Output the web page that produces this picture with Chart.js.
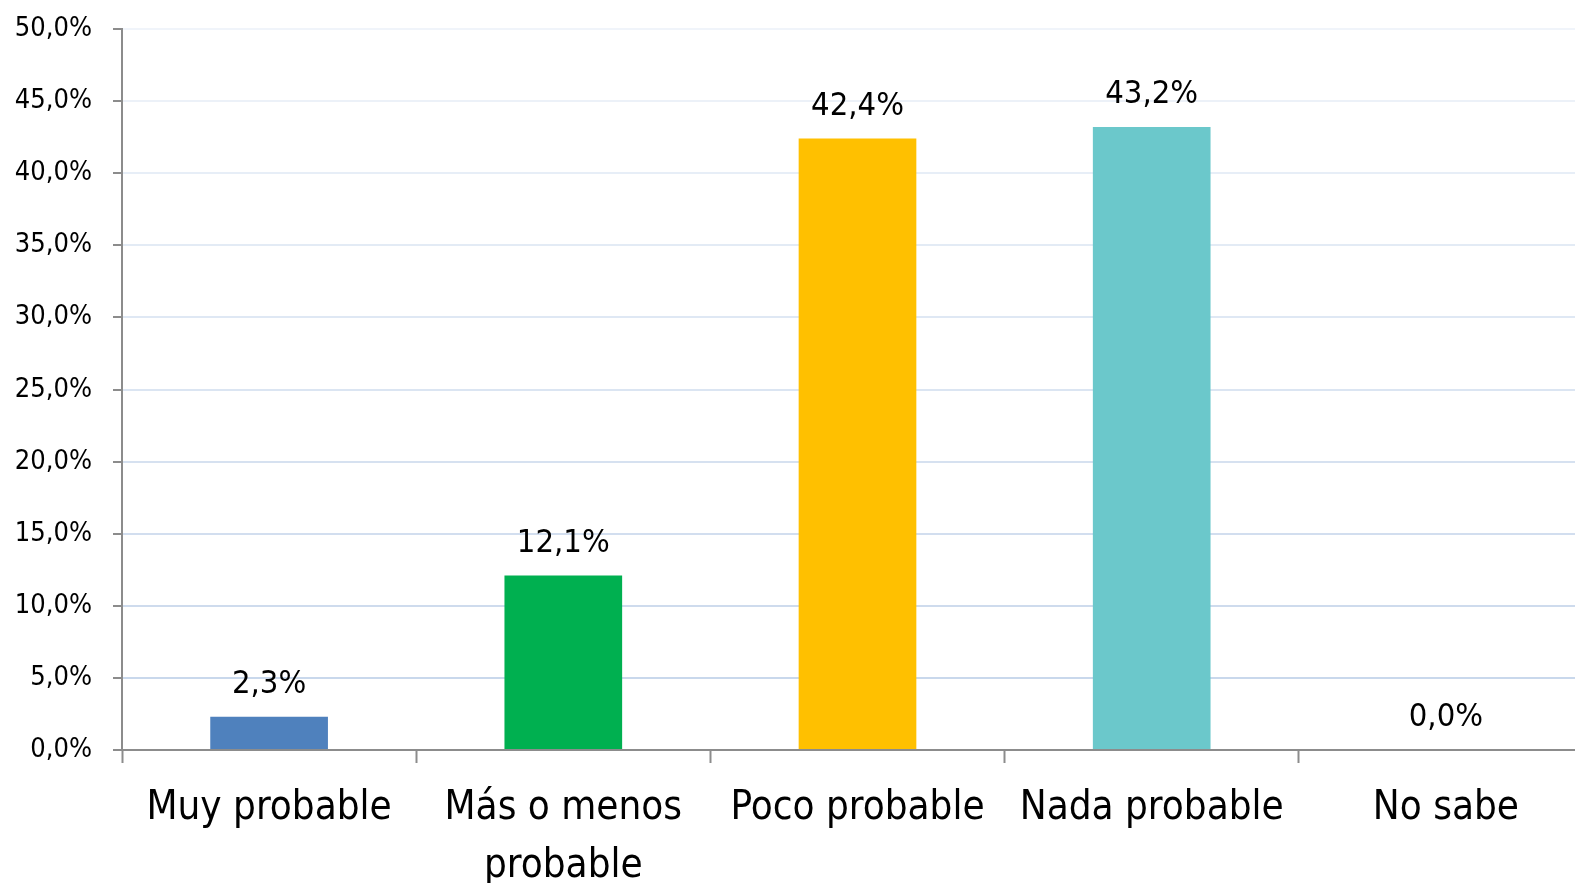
<!DOCTYPE html>
<html>
<head>
<meta charset="utf-8">
<script src="https://cdn.jsdelivr.net/npm/chart.js@4"></script>
<style>
  html, body { margin: 0; padding: 0; background: #fff; overflow: hidden; }
  #wrap { width: 1600px; height: 883px; position: relative; }
</style>
</head>
<body>
<div id="wrap"><canvas id="myChart"></canvas></div>
<script>
// données
const categories = ['Muy probable', ['Más o menos', 'probable'], 'Poco probable', 'Nada probable', 'No sabe'];
const valores = [2.3, 12.1, 42.4, 43.2, 0.0];
const colores = ['#4F81BD', '#00B050', '#FFC000', '#6BC8CB', '#A5A5A5'];
const yMin = 0, yMax = 50, yStep = 5;

const FONT = "'DejaVu Sans Condensed', 'DejaVu Sans', sans-serif";
const fmt = v => v.toFixed(1).replace('.', ',') + '%';

// couleur des lignes de grille : plus claire vers le haut
function gridColor(v) {
    const t = (v - yMin) / (yMax - yMin);
    const a = [197, 213, 234], b = [240, 244, 250];
    const c = a.map((x, i) => Math.round(x + (b[i] - x) * t));
    return `rgb(${c[0]},${c[1]},${c[2]})`;
}

const labelPlugin = {
    id: 'valueLabels',
    afterDatasetsDraw(chart) {
        const ctx = chart.ctx;
        const meta = chart.getDatasetMeta(0);
        ctx.save();
        ctx.font = `32.5px ${FONT}`;
        ctx.fillStyle = '#000';
        ctx.textAlign = 'center';
        ctx.textBaseline = 'alphabetic';
        meta.data.forEach((bar, i) => {
            ctx.fillText(fmt(valores[i]), bar.x, bar.y - 24);
        });
        ctx.restore();
    }
};

const ctx = document.getElementById('myChart').getContext('2d');
new Chart(ctx, {
    type: 'bar',
    data: {
        labels: categories,
        datasets: [{
            data: valores,
            backgroundColor: colores,
            borderWidth: 0,
            categoryPercentage: 1,
            barPercentage: 0.4
        }]
    },
    options: {
        responsive: true,
        maintainAspectRatio: false,
        animation: false,
        layout: { padding: { top: 29, right: 7, left: 0, bottom: 0 } },
        plugins: { legend: { display: false }, tooltip: { enabled: false } },
        scales: {
            x: {
                grid: { drawOnChartArea: false, drawTicks: true, tickLength: 13, tickColor: '#8c8c8c', tickWidth: 2, offset: true },
                border: { color: '#8c8c8c', width: 2 },
                ticks: { color: '#000', padding: 17, maxRotation: 0, autoSkip: false, font: { family: FONT, size: 40, lineHeight: 1.45 } },
                afterFit(scale) { scale.height = 133; scale.paddingLeft = 0; scale.paddingRight = 0; }
            },
            y: {
                min: yMin, max: yMax,
                grid: { color: c => gridColor(c.tick.value), lineWidth: 2, tickLength: 9, tickColor: '#8c8c8c', tickWidth: 2 },
                border: { color: '#8c8c8c', width: 2 },
                ticks: { stepSize: yStep, color: '#000', padding: 21, callback: v => fmt(v), font: { family: FONT, size: 27 } },
                afterFit(scale) { scale.width = 122; scale.paddingTop = 0; scale.paddingBottom = 0; }
            }
        }
    },
    plugins: [labelPlugin]
});
</script>
</body>
</html>
